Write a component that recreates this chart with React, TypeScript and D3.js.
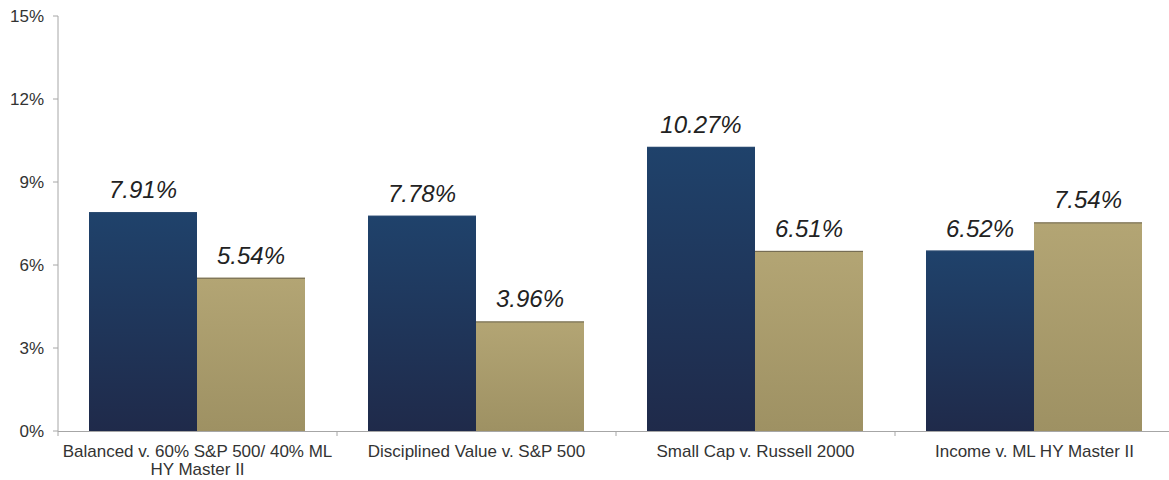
import React from "react";
import * as d3 from "d3";

const categories = [
  ["Balanced v. 60% S&P 500/ 40% ML", "HY Master II"],
  ["Disciplined Value v. S&P 500"],
  ["Small Cap v. Russell 2000"],
  ["Income v. ML HY Master II"],
];
const fundValues = [7.91, 7.78, 10.27, 6.52];
const benchmarkValues = [5.54, 3.96, 6.51, 7.54];
const yTicks = [0, 3, 6, 9, 12, 15];

const W = 1169;
const H = 480;
const left = 58;
const right = 1174;
const top = 16;
const bottom = 431;

export default function App() {
  const x = d3
    .scaleBand<number>()
    .domain(categories.map((_, i) => i))
    .range([left, right])
    .paddingInner(0)
    .paddingOuter(0);
  const y = d3.scaleLinear().domain([0, 15]).range([bottom, top]);
  const bw = x.bandwidth();
  const barW = 108;
  const offset = 31;
  const font = "'Liberation Sans', Arial, Helvetica, sans-serif";

  const bars: { v: number; cx: number; kind: "fund" | "bench" }[] = [];
  categories.forEach((_, i) => {
    const x0 = (x(i) as number) + offset;
    bars.push({ v: fundValues[i], cx: x0, kind: "fund" });
    bars.push({ v: benchmarkValues[i], cx: x0 + barW, kind: "bench" });
  });

  const boundaries = d3.range(categories.length + 1).map((i) => left + i * bw);

  return (
    <svg width={W} height={H} style={{ position: "absolute", left: 0, top: 0, background: "#fff" }}>
      <defs>
        <linearGradient id="gBlue" x1="0" y1="0" x2="0" y2="1">
          <stop offset="0%" stopColor="#1f426b" />
          <stop offset="100%" stopColor="#1f2a4a" />
        </linearGradient>
        <linearGradient id="gTan" x1="0" y1="0" x2="0" y2="1">
          <stop offset="0%" stopColor="#b3a574" />
          <stop offset="100%" stopColor="#9e9163" />
        </linearGradient>
      </defs>
      {/* y axis */}
      <line x1={left} x2={left} y1={top} y2={bottom} stroke="#a6a6a6" strokeWidth={1} />
      {yTicks.map((t) => (
        <g key={t}>
          <line x1={left - 5} x2={left} y1={y(t)} y2={y(t)} stroke="#a6a6a6" />
          <text
            x={44}
            y={y(t) + 6}
            textAnchor="end"
            fontSize={17}
            fontFamily={font}
            fill="#333"
          >
            {t}%
          </text>
        </g>
      ))}
      {/* bars */}
      {bars.map((b, i) => (
        <g key={i}>
          <rect
            x={b.cx}
            y={y(b.v)}
            width={barW}
            height={bottom - y(b.v)}
            fill={b.kind === "fund" ? "url(#gBlue)" : "url(#gTan)"}
          />
          <line
            x1={b.cx}
            x2={b.cx + barW}
            y1={y(b.v) + 0.5}
            y2={y(b.v) + 0.5}
            stroke={b.kind === "fund" ? "#2a4a70" : "#6e6650"}
            strokeWidth={1}
          />
          <text
            x={b.cx + barW / 2}
            y={y(b.v) - 14}
            textAnchor="middle"
            fontSize={24}
            fontStyle="italic"
            fontFamily={font}
            fill="#222"
          >
            {b.v.toFixed(2)}%
          </text>
        </g>
      ))}
      {/* x axis */}
      <line x1={left} x2={right} y1={bottom + 0.5} y2={bottom + 0.5} stroke="#a6a6a6" strokeWidth={1} />
      {boundaries.map((bx, i) => (
        <line key={i} x1={bx} x2={bx} y1={bottom} y2={bottom + 5} stroke="#a6a6a6" />
      ))}
      {categories.map((lines, i) => (
        <text
          key={i}
          x={(x(i) as number) + bw / 2}
          y={457}
          textAnchor="middle"
          fontSize={17}
          fontFamily={font}
          fill="#333"
        >
          {lines.map((l, j) => (
            <tspan key={j} x={(x(i) as number) + bw / 2} dy={j === 0 ? 0 : 18}>
              {l}
            </tspan>
          ))}
        </text>
      ))}
    </svg>
  );
}
